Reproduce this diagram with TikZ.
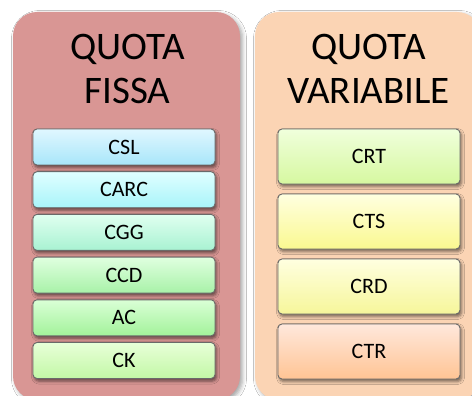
\documentclass[tikz,border=0pt]{standalone}
\usepackage{fontspec}
\setmainfont{Carlito}
\usetikzlibrary{shadows.blur}

\definecolor{fixedfill}{HTML}{D99694}
\definecolor{varfill}{HTML}{FBD4B4}
\definecolor{boxline}{HTML}{6A6A6A}
% item gradients: top / bottom
\definecolor{cslT}{HTML}{E0F7FF}\definecolor{cslB}{HTML}{A8E6FA}
\definecolor{carcT}{HTML}{E0FFFF}\definecolor{carcB}{HTML}{A8F4FA}
\definecolor{cggT}{HTML}{E0FFF0}\definecolor{cggB}{HTML}{A8F2D2}
\definecolor{ccdT}{HTML}{E0FFE0}\definecolor{ccdB}{HTML}{A8F2A8}
\definecolor{acT}{HTML}{DAFFD6}\definecolor{acB}{HTML}{A2F29A}
\definecolor{ckT}{HTML}{E8FFD8}\definecolor{ckB}{HTML}{C2F8A6}
\definecolor{crtT}{HTML}{F0FFDC}\definecolor{crtB}{HTML}{D6F8A0}
\definecolor{ctsT}{HTML}{FFFFE0}\definecolor{ctsB}{HTML}{FAF890}
\definecolor{crdT}{HTML}{FFFFE0}\definecolor{crdB}{HTML}{F6F69A}
\definecolor{ctrT}{HTML}{FFE8DC}\definecolor{ctrB}{HTML}{FFC494}

\tikzset{
  panel/.style={rounded corners=24pt, inner sep=0pt,
    blur shadow={shadow xshift=2.5pt, shadow yshift=-2.5pt,
      shadow blur radius=4pt, shadow opacity=35}},
  paneltitle/.style={anchor=north, inner sep=0pt, align=center,
    font=\fontsize{39}{43.5}\selectfont},
  item/.style={draw=boxline, line width=0.9pt, rounded corners=4pt,
    minimum width=182pt, inner sep=0pt,
    font=\fontsize{22}{24}\selectfont,
    blur shadow={shadow xshift=1.5pt, shadow yshift=-2.5pt,
      shadow blur radius=3pt, shadow opacity=55}},
  fixeditem/.style={item, minimum height=36pt},
  varitem/.style={item, minimum height=55pt},
  grad/.style={top color=#1T, bottom color=#1B},
}

\begin{document}
\begin{tikzpicture}[x=1pt, y=-1pt]
  \useasboundingbox (0,0) rectangle (472,396);
  \clip (0,0) rectangle (472,396);
  \fill[white] (0,0) rectangle (472,396);

  % the two panels
  \node[panel, fill=fixedfill, minimum width=227pt, minimum height=388pt]
    (fixed) at (126.5,206) {};
  \node[panel, fill=varfill, minimum width=226pt, minimum height=388pt]
    (variable) at (368,206) {};

  % panel titles
  \node[paneltitle] (fixedtitle) at (127.5,34) {QUOTA\\FISSA};
  \node[paneltitle] (vartitle) at (368.5,34) {QUOTA\\VARIABILE};

  % fixed share items
  \node[fixeditem, grad=csl]  (csl)  at (124,147.0) {CSL};
  \node[fixeditem, grad=carc] (carc) at (124,189.7) {CARC};
  \node[fixeditem, grad=cgg]  (cgg)  at (124,232.4) {CGG};
  \node[fixeditem, grad=ccd]  (ccd)  at (124,275.1) {CCD};
  \node[fixeditem, grad=ac]   (ac)   at (124,317.8) {AC};
  \node[fixeditem, grad=ck]   (ck)   at (124,360.5) {CK};

  % variable share items
  \node[varitem, grad=crt] (crt) at (369,156.5) {CRT};
  \node[varitem, grad=cts] (cts) at (369,221.5) {CTS};
  \node[varitem, grad=crd] (crd) at (369,286.5) {CRD};
  \node[varitem, grad=ctr] (ctr) at (369,351.5) {CTR};
\end{tikzpicture}
\end{document}
